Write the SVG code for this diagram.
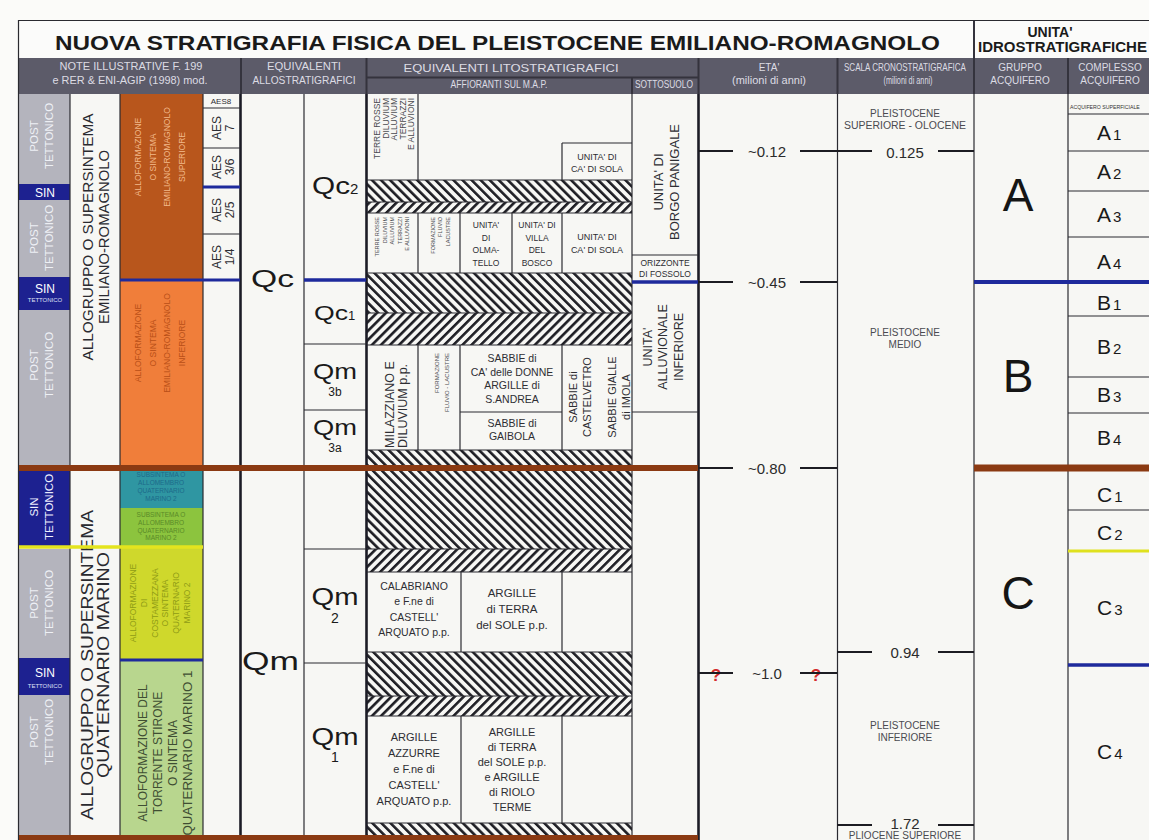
<svg xmlns="http://www.w3.org/2000/svg" width="1149" height="840" viewBox="0 0 1149 840">
<defs>
<pattern id="hb" patternUnits="userSpaceOnUse" width="6.4" height="6.4" patternTransform="rotate(-45)">
<rect width="6.4" height="6.4" fill="#f7f7f4"/><rect width="2.6" height="6.4" fill="#1e1e24"/>
</pattern>
<pattern id="hf" patternUnits="userSpaceOnUse" width="6.4" height="6.4" patternTransform="rotate(45)">
<rect width="6.4" height="6.4" fill="#f7f7f4"/><rect width="2.6" height="6.4" fill="#1e1e24"/>
</pattern>
</defs>
<style>
text{font-family:"Liberation Sans",Arial,Helvetica,sans-serif}
.hd{fill:#dcdce4;font-size:10px;text-anchor:middle}
.c{text-anchor:middle}
.r{text-anchor:middle;dominant-baseline:central}
.ln{stroke:#2a2a30;stroke-width:1.2;fill:none}
.lk{stroke:#1c1c26;stroke-width:2.6;fill:none}
.gr{fill:#b4b4bd}
.sin{fill:#1d2190}
.gt{fill:#eef0f5;font-size:11.5px}
.st{fill:#ffffff;font-size:12px}
.tx{fill:#2e2e33}
.sm{fill:#4a4a50}
.tk{stroke:#1c1c22;stroke-width:2;fill:none}
.num{fill:#2b2b2b;font-size:15px;text-anchor:middle}
.big{fill:#151515;font-size:46px;text-anchor:middle}
.sub{fill:#1a1a1a;font-size:21px}
.bl{stroke:#1e2a9c;fill:none}
.br{stroke:#8b3a12;fill:none}
</style>

<rect width="1149" height="840" fill="#fbfbf9"/>

<g id="title">
<rect x="18" y="20" width="1131" height="38" fill="#fbfbfa"/>
<text x="55" y="50" font-size="20" font-weight="bold" fill="#1a1a1a" textLength="885" lengthAdjust="spacingAndGlyphs">NUOVA STRATIGRAFIA FISICA DEL PLEISTOCENE EMILIANO-ROMAGNOLO</text>
<text x="1050" y="37" font-size="14" font-weight="bold" fill="#1a1a1a" class="c">UNITA'</text>
<text x="978" y="52" font-size="15" font-weight="bold" fill="#1a1a1a">IDROSTRATIGRAFICHE</text>
</g>

<g id="header">
<rect x="18" y="58" width="1131" height="36" fill="#5c5b69"/>
<text class="hd" x="131" y="70" textLength="143" lengthAdjust="spacingAndGlyphs">NOTE ILLUSTRATIVE F. 199</text>
<text class="hd" x="130" y="84" textLength="155" lengthAdjust="spacingAndGlyphs">e RER &amp; ENI-AGIP (1998) mod.</text>
<text class="hd" x="304" y="70" textLength="74" lengthAdjust="spacingAndGlyphs">EQUIVALENTI</text>
<text class="hd" x="304" y="84" textLength="103" lengthAdjust="spacingAndGlyphs">ALLOSTRATIGRAFICI</text>
<text class="hd" x="511" y="72" textLength="215" lengthAdjust="spacingAndGlyphs">EQUIVALENTI LITOSTRATIGRAFICI</text>
<text class="hd" x="499" y="88" font-size="7.5" textLength="97" lengthAdjust="spacingAndGlyphs">AFFIORANTI SUL M.A.P.</text>
<text class="hd" x="664" y="88" font-size="7.5" textLength="58" lengthAdjust="spacingAndGlyphs">SOTTOSUOLO</text>
<text class="hd" x="769" y="71">ETA'</text>
<text class="hd" x="769" y="84" textLength="74" lengthAdjust="spacingAndGlyphs">(milioni di anni)</text>
<text class="hd" x="905" y="71" font-size="8.5" textLength="122" lengthAdjust="spacingAndGlyphs">SCALA CRONOSTRATIGRAFICA</text>
<text class="hd" x="908" y="84" font-size="6.5" textLength="49" lengthAdjust="spacingAndGlyphs">(milioni di anni)</text>
<text class="hd" x="1020" y="71" font-size="8">GRUPPO</text>
<text class="hd" x="1020" y="84" font-size="8">ACQUIFERO</text>
<text class="hd" x="1110" y="71" font-size="8">COMPLESSO</text>
<text class="hd" x="1110" y="84" font-size="8">ACQUIFERO</text>
<g stroke="#34333d" stroke-width="2">
<line x1="241" y1="58" x2="241" y2="94"/><line x1="366.5" y1="58" x2="366.5" y2="94"/>
<line x1="698.5" y1="58" x2="698.5" y2="94"/><line x1="837.5" y1="58" x2="837.5" y2="94"/>
<line x1="974" y1="20" x2="974" y2="94"/><line x1="1068" y1="58" x2="1068" y2="94"/>
<line x1="366" y1="77.5" x2="698" y2="77.5"/><line x1="632" y1="77.5" x2="632" y2="94"/>
</g>
</g>

<rect x="18" y="94" width="1131" height="746" fill="#f7f7f4"/>

<g id="col-tettonica">
<rect class="gr" x="19" y="94" width="51" height="90"/>
<text class="gt r" transform="translate(41,136) rotate(-90)"><tspan x="0" y="-7.5">POST</tspan><tspan x="0" dy="15">TETTONICO</tspan></text>
<rect class="sin" x="19" y="184" width="51" height="16"/>
<text class="st c" x="45" y="196.5">SIN</text>
<rect class="gr" x="19" y="200" width="51" height="77"/>
<text class="gt r" transform="translate(41,238) rotate(-90)"><tspan x="0" y="-7.5">POST</tspan><tspan x="0" dy="15">TETTONICO</tspan></text>
<rect class="sin" x="19" y="277" width="51" height="33"/>
<text class="st c" x="45" y="293">SIN</text>
<text class="c" x="45" y="302" font-size="6" fill="#dfe0f5">TETTONICO</text>
<rect class="gr" x="19" y="310" width="51" height="155"/>
<text class="gt r" transform="translate(41,365) rotate(-90)"><tspan x="0" y="-7.5">POST</tspan><tspan x="0" dy="15">TETTONICO</tspan></text>
<rect class="sin" x="19" y="471" width="51" height="75"/>
<text class="r" fill="#eef0ff" font-size="11.5" transform="translate(41,507) rotate(-90)"><tspan x="0" y="-7.5">SIN</tspan><tspan x="0" dy="15">TETTONICO</tspan></text>
<rect class="gr" x="19" y="549" width="51" height="109"/>
<text class="gt r" transform="translate(41,603) rotate(-90)"><tspan x="0" y="-7.5">POST</tspan><tspan x="0" dy="15">TETTONICO</tspan></text>
<rect class="sin" x="19" y="658" width="51" height="37"/>
<text class="st c" x="45" y="677">SIN</text>
<text class="c" x="45" y="688" font-size="6" fill="#dfe0f5">TETTONICO</text>
<rect class="gr" x="19" y="695" width="51" height="140"/>
<text class="gt r" transform="translate(41,732) rotate(-90)"><tspan x="0" y="-7.5">POST</tspan><tspan x="0" dy="15">TETTONICO</tspan></text>
</g>

<g id="allogruppo-er">
<text class="r" fill="#2a2a30" font-size="15" transform="translate(95,237) rotate(-90)"><tspan x="0" y="-8" textLength="247" lengthAdjust="spacingAndGlyphs">ALLOGRUPPO O SUPERSINTEMA</tspan><tspan x="0" dy="16" textLength="174" lengthAdjust="spacingAndGlyphs">EMILIANO-ROMAGNOLO</tspan></text>
</g>
<g id="allogruppo-qm">
<text class="r" fill="#2a2a30" font-size="16.5" transform="translate(95,665) rotate(-90)"><tspan x="0" y="-8" textLength="310" lengthAdjust="spacingAndGlyphs">ALLOGRUPPO O SUPERSINTEMA</tspan><tspan x="0" dy="16" textLength="226" lengthAdjust="spacingAndGlyphs">QUATERNARIO MARINO</tspan></text>
</g>

<g id="aes-sup">
<rect x="120" y="94" width="83" height="186" fill="#b8561c"/>
<text class="r" fill="#f2b98a" font-size="8.5" transform="translate(160,157) rotate(-90)"><tspan x="0" y="-22">ALLOFORMAZIONE</tspan><tspan x="0" dy="14.7">O SINTEMA</tspan><tspan x="0" dy="14.7">EMILIANO-ROMAGNOLO</tspan><tspan x="0" dy="14.7">SUPERIORE</tspan></text>
</g>
<g id="aei-inf">
<rect x="120" y="280" width="83" height="185" fill="#f07e3a"/>
<text class="r" fill="#b94f17" font-size="8.5" transform="translate(160,343) rotate(-90)"><tspan x="0" y="-22">ALLOFORMAZIONE</tspan><tspan x="0" dy="14.7">O SINTEMA</tspan><tspan x="0" dy="14.7">EMILIANO-ROMAGNOLO</tspan><tspan x="0" dy="14.7">INFERIORE</tspan></text>
</g>
<g id="qm-sub3">
<rect x="120" y="471" width="83" height="37" fill="#2f96a2"/>
<text class="c" fill="#1d6a8a" font-size="6.5"><tspan x="161" y="477">SUBSINTEMA O</tspan><tspan x="161" dy="8">ALLOMEMBRO</tspan><tspan x="161" dy="8">QUATERNARIO</tspan><tspan x="161" dy="8">MARINO 2</tspan></text>
</g>
<g id="qm-sub2">
<rect x="120" y="508" width="83" height="38" fill="#8cc43e"/>
<text class="c" fill="#5a8a28" font-size="6.5"><tspan x="161" y="517">SUBSINTEMA O</tspan><tspan x="161" dy="7.8">ALLOMEMBRO</tspan><tspan x="161" dy="7.8">QUATERNARIO</tspan><tspan x="161" dy="7.8">MARINO 2</tspan></text>
</g>
<g id="costamezzana">
<rect x="120" y="548" width="83" height="112" fill="#cfd82c"/>
<text class="r" fill="#8f9c16" font-size="8.5" transform="translate(160,603) rotate(-90)"><tspan x="0" y="-27">ALLOFORMAZIONE</tspan><tspan x="0" dy="10.8">DI</tspan><tspan x="0" dy="10.8">COSTAMEZZANA</tspan><tspan x="0" dy="10.8">O SINTEMA</tspan><tspan x="0" dy="10.8">QUATERNARIO</tspan><tspan x="0" dy="10.8">MARINO 2</tspan></text>
</g>
<g id="stirone">
<rect x="120" y="661" width="83" height="174" fill="#b8d68e"/>
<text class="r" fill="#3f4e33" font-size="12" transform="translate(165,753) rotate(-90)"><tspan x="0" y="-22.5">ALLOFORMAZIONE DEL</tspan><tspan x="0" dy="15">TORRENTE STIRONE</tspan><tspan x="0" dy="15">O SINTEMA</tspan><tspan x="0" dy="15" textLength="165" lengthAdjust="spacingAndGlyphs">QUATERNARIO MARINO 1</tspan></text>
</g>

<g id="aes">
<text class="c tx" x="221" y="104" font-size="8">AES8</text>
<text class="r tx" font-size="12" transform="translate(223,128) rotate(-90)"><tspan x="0" y="-6.5">AES</tspan><tspan x="0" dy="13">7</tspan></text>
<text class="r tx" font-size="12" transform="translate(223,167) rotate(-90)"><tspan x="0" y="-6.5">AES</tspan><tspan x="0" dy="13">3/6</tspan></text>
<text class="r tx" font-size="12" transform="translate(223,210) rotate(-90)"><tspan x="0" y="-6.5">AES</tspan><tspan x="0" dy="13">2/5</tspan></text>
<text class="r tx" font-size="12" transform="translate(223,257) rotate(-90)"><tspan x="0" y="-6.5">AES</tspan><tspan x="0" dy="13">1/4</tspan></text>
</g>

<g id="qc">
<text x="251" y="287" font-size="24" fill="#1a1a1a" textLength="43" lengthAdjust="spacingAndGlyphs">Qc</text>
<text x="312" y="194" font-size="24" fill="#1a1a1a"><tspan textLength="38" lengthAdjust="spacingAndGlyphs">Qc</tspan><tspan font-size="15">2</tspan></text>
<text x="314" y="320" font-size="21" fill="#1a1a1a"><tspan textLength="34" lengthAdjust="spacingAndGlyphs">Qc</tspan><tspan font-size="13">1</tspan></text>
<text x="335" y="379" font-size="22" fill="#1a1a1a" class="c" textLength="44" lengthAdjust="spacingAndGlyphs">Qm</text>
<text x="335" y="396" font-size="12" fill="#1a1a1a" class="c">3b</text>
<text x="335" y="435" font-size="22" fill="#1a1a1a" class="c" textLength="44" lengthAdjust="spacingAndGlyphs">Qm</text>
<text x="335" y="452" font-size="12" fill="#1a1a1a" class="c">3a</text>
</g>
<g id="qm">
<text x="242" y="670" font-size="26" fill="#1a1a1a" textLength="57" lengthAdjust="spacingAndGlyphs">Qm</text>
<text x="335" y="605" font-size="23" fill="#1a1a1a" class="c" textLength="47" lengthAdjust="spacingAndGlyphs">Qm</text>
<text x="335" y="623" font-size="14" fill="#1a1a1a" class="c">2</text>
<text x="335" y="745" font-size="23" fill="#1a1a1a" class="c" textLength="47" lengthAdjust="spacingAndGlyphs">Qm</text>
<text x="335" y="762" font-size="14" fill="#1a1a1a" class="c">1</text>
</g>

<g id="hatch">
<rect x="367" y="180" width="265" height="22" fill="url(#hb)"/>
<rect x="367" y="202" width="265" height="11" fill="url(#hf)"/>
<rect x="367" y="273" width="265" height="40" fill="url(#hb)"/>
<rect x="367" y="313" width="265" height="32" fill="url(#hf)"/>
<rect x="367" y="450" width="265" height="15" fill="url(#hb)"/>
<rect x="367" y="471" width="265" height="78" fill="url(#hb)"/>
<rect x="367" y="549" width="265" height="23" fill="url(#hf)"/>
<rect x="367" y="652" width="265" height="44" fill="url(#hb)"/>
<rect x="367" y="696" width="265" height="20" fill="url(#hf)"/>
<rect x="367" y="823" width="265" height="12" fill="url(#hb)"/>
</g>

<g id="litho-up">
<text class="sm" font-size="8.5" text-anchor="end" dominant-baseline="central" transform="translate(394,98) rotate(-90)"><tspan x="0" y="-17">TERRE ROSSE</tspan><tspan x="0" dy="8.5">DILUVIUM</tspan><tspan x="0" dy="8.5">ALLUVIUM</tspan><tspan x="0" dy="8.5">TERRAZZI</tspan><tspan x="0" dy="8.5">E ALLUVIONI</tspan></text>
<text class="c tx" font-size="9"><tspan x="597" y="160">UNITA' DI</tspan><tspan x="597" dy="12">CA' DI SOLA</tspan></text>
<text class="sm" font-size="5.5" text-anchor="end" dominant-baseline="central" transform="translate(392,217) rotate(-90)"><tspan x="0" y="-15">TERRE ROSSE</tspan><tspan x="0" dy="7.5">DILUVIUM</tspan><tspan x="0" dy="7.5">ALLUVIUM</tspan><tspan x="0" dy="7.5">TERRAZZI</tspan><tspan x="0" dy="7.5">E ALLUVIONI</tspan></text>
<text class="sm" font-size="5.5" text-anchor="end" dominant-baseline="central" transform="translate(440,217) rotate(-90)"><tspan x="0" y="-7.5">FORMAZIONE</tspan><tspan x="0" dy="7.5">FLUVIO</tspan><tspan x="0" dy="7.5">LACUSTRE</tspan></text>
<text class="c tx" font-size="8.5"><tspan x="486" y="228">UNITA'</tspan><tspan x="486" dy="12.7">DI</tspan><tspan x="486" dy="12.7">OLMA-</tspan><tspan x="486" dy="12.7">TELLO</tspan></text>
<text class="c tx" font-size="8.5"><tspan x="537" y="228">UNITA' DI</tspan><tspan x="537" dy="12.7">VILLA</tspan><tspan x="537" dy="12.7">DEL</tspan><tspan x="537" dy="12.7">BOSCO</tspan></text>
<text class="c tx" font-size="9"><tspan x="597" y="240">UNITA' DI</tspan><tspan x="597" dy="13">CA' DI SOLA</tspan></text>
<text class="tx" font-size="12.5" dominant-baseline="central" transform="translate(396,448) rotate(-90)"><tspan x="0" y="-6.5">MILAZZIANO E</tspan><tspan x="0" dy="13">DILUVIUM p.p.</tspan></text>
<text class="sm" font-size="6" text-anchor="end" dominant-baseline="central" transform="translate(442,353) rotate(-90)"><tspan x="0" y="-5">FORMAZIONE</tspan><tspan x="0" dy="10">FLUVIO - LACUSTRE</tspan></text>
<text class="c tx" font-size="10.5"><tspan x="512" y="362">SABBIE di</tspan><tspan x="512" dy="13.5">CA' delle DONNE</tspan><tspan x="512" dy="13.5">ARGILLE di</tspan><tspan x="512" dy="13.5">S.ANDREA</tspan></text>
<text class="c tx" font-size="10.5"><tspan x="512" y="427">SABBIE di</tspan><tspan x="512" dy="13">GAIBOLA</tspan></text>
<text class="r tx" font-size="11" transform="translate(580,397) rotate(-90)"><tspan x="0" y="-7">SABBIE di</tspan><tspan x="0" dy="14">CASTELVETRO</tspan></text>
<text class="r tx" font-size="11" transform="translate(619,397) rotate(-90)"><tspan x="0" y="-7">SABBIE GIALLE</tspan><tspan x="0" dy="14">di IMOLA</tspan></text>
</g>

<g id="sottosuolo">
<text class="r tx" font-size="13" transform="translate(666,182) rotate(-90)"><tspan x="0" y="-8">UNITA' DI</tspan><tspan x="0" dy="16">BORGO PANIGALE</tspan></text>
<text class="c tx" font-size="8.5"><tspan x="665" y="266">ORIZZONTE</tspan><tspan x="665" dy="10.5">DI FOSSOLO</tspan></text>
<text class="r tx" font-size="12.5" transform="translate(663,347) rotate(-90)"><tspan x="0" y="-15.5">UNITA'</tspan><tspan x="0" dy="15.5">ALLUVIONALE</tspan><tspan x="0" dy="15.5">INFERIORE</tspan></text>
</g>

<g id="litho-low">
<text class="c tx" font-size="10.5"><tspan x="414" y="590">CALABRIANO</tspan><tspan x="414" dy="15.3">e F.ne di</tspan><tspan x="414" dy="15.3">CASTELL'</tspan><tspan x="414" dy="15.3">ARQUATO p.p.</tspan></text>
<text class="c tx" font-size="11.5"><tspan x="512" y="597">ARGILLE</tspan><tspan x="512" dy="16">di TERRA</tspan><tspan x="512" dy="16">del SOLE p.p.</tspan></text>
<text class="c tx" font-size="11"><tspan x="414" y="741">ARGILLE</tspan><tspan x="414" dy="16">AZZURRE</tspan><tspan x="414" dy="16">e F.ne di</tspan><tspan x="414" dy="16">CASTELL'</tspan><tspan x="414" dy="16">ARQUATO p.p.</tspan></text>
<text class="c tx" font-size="11"><tspan x="512" y="736">ARGILLE</tspan><tspan x="512" dy="15">di TERRA</tspan><tspan x="512" dy="15">del SOLE p.p.</tspan><tspan x="512" dy="15">e ARGILLE</tspan><tspan x="512" dy="15">di RIOLO</tspan><tspan x="512" dy="15">TERME</tspan></text>
</g>

<g id="eta">
<text class="num" x="767" y="157">~0.12</text>
<text class="num" x="767" y="288">~0.45</text>
<text class="num" x="767" y="474">~0.80</text>
<text class="num" x="767" y="679" fill="#777">~1.0</text>
<text x="716" y="681" font-size="17" font-weight="bold" fill="#d42a2a" class="c">?</text>
<text x="816" y="681" font-size="17" font-weight="bold" fill="#d42a2a" class="c">?</text>
</g>

<g id="scala">
<text class="c sm" font-size="10"><tspan x="905" y="117">PLEISTOCENE</tspan><tspan x="905" dy="12" textLength="122" lengthAdjust="spacingAndGlyphs">SUPERIORE - OLOCENE</tspan></text>
<text class="num" x="905" y="158">0.125</text>
<text class="c sm" font-size="10"><tspan x="905" y="336">PLEISTOCENE</tspan><tspan x="905" dy="12">MEDIO</tspan></text>
<text class="num" x="905" y="658">0.94</text>
<text class="c sm" font-size="10"><tspan x="905" y="729">PLEISTOCENE</tspan><tspan x="905" dy="12">INFERIORE</tspan></text>
<text class="num" x="905" y="829">1.72</text>
<text class="c sm" font-size="10" x="905" y="839">PLIOCENE SUPERIORE</text>
</g>

<g id="gruppo">
<text class="big" x="1018" y="211">A</text>
<text class="big" x="1018" y="392">B</text>
<text class="big" x="1018" y="609">C</text>
</g>

<g id="complesso">
<text x="1070" y="109" font-size="5.2" fill="#333">ACQUIFERO SUPERFICIALE</text>
<text class="sub" x="1097" y="140">A<tspan font-size="15" dx="2">1</tspan></text>
<text class="sub" x="1097" y="179">A<tspan font-size="15" dx="2">2</tspan></text>
<text class="sub" x="1097" y="222">A<tspan font-size="15" dx="2">3</tspan></text>
<text class="sub" x="1097" y="269">A<tspan font-size="15" dx="2">4</tspan></text>
<text class="sub" x="1097" y="310">B<tspan font-size="15" dx="2">1</tspan></text>
<text class="sub" x="1097" y="354">B<tspan font-size="15" dx="2">2</tspan></text>
<text class="sub" x="1097" y="402">B<tspan font-size="15" dx="2">3</tspan></text>
<text class="sub" x="1097" y="445">B<tspan font-size="15" dx="2">4</tspan></text>
<text class="sub" x="1097" y="502">C<tspan font-size="15" dx="2">1</tspan></text>
<text class="sub" x="1097" y="540">C<tspan font-size="15" dx="2">2</tspan></text>
<text class="sub" x="1097" y="615">C<tspan font-size="15" dx="2">3</tspan></text>
<text class="sub" x="1097" y="759">C<tspan font-size="15" dx="2">4</tspan></text>
</g>

<g id="connectors">
<line class="ln" x1="18" y1="20.5" x2="1149" y2="20.5" stroke-width="1.5"/>
<line class="ln" x1="18.5" y1="20" x2="18.5" y2="840" stroke-width="1.5"/>
<line class="ln" x1="70" y1="94" x2="70" y2="835"/>
<line class="ln" x1="120" y1="94" x2="120" y2="835"/>
<line class="ln" x1="203" y1="94" x2="203" y2="835"/>
<line class="lk" x1="240.5" y1="94" x2="240.5" y2="840"/>
<line class="ln" x1="304" y1="94" x2="304" y2="835"/>
<line class="lk" x1="366.5" y1="94" x2="366.5" y2="840"/>
<line class="ln" x1="632" y1="94" x2="632" y2="835"/>
<line class="lk" x1="698.5" y1="94" x2="698.5" y2="840"/>
<line class="ln" x1="837.5" y1="94" x2="837.5" y2="840" stroke-width="1.6"/>
<line class="ln" x1="974" y1="94" x2="974" y2="840" stroke-width="1.6"/>
<line class="ln" x1="1068" y1="94" x2="1068" y2="840" stroke-width="1.6"/>
<line class="ln" x1="203" y1="108" x2="240" y2="108"/>
<line class="ln" x1="203" y1="148" x2="240" y2="148"/>
<line class="ln" x1="203" y1="234" x2="240" y2="234"/>
<line class="ln" x1="304" y1="344" x2="366" y2="344"/>
<line class="ln" x1="304" y1="410" x2="366" y2="410"/>
<line class="ln" x1="304" y1="549" x2="366" y2="549"/>
<line class="ln" x1="304" y1="663" x2="366" y2="663"/>
<line class="ln" x1="418" y1="94" x2="418" y2="180"/>
<line class="ln" x1="562" y1="143" x2="632" y2="143"/>
<line class="ln" x1="562" y1="143" x2="562" y2="180"/>
<line class="ln" x1="367" y1="180" x2="632" y2="180"/>
<line class="ln" x1="367" y1="202" x2="632" y2="202"/>
<line class="ln" x1="367" y1="213" x2="632" y2="213"/>
<line class="ln" x1="418" y1="213" x2="418" y2="273"/>
<line class="ln" x1="460" y1="213" x2="460" y2="273"/>
<line class="ln" x1="512" y1="213" x2="512" y2="273"/>
<line class="ln" x1="562" y1="213" x2="562" y2="273"/>
<line class="ln" x1="367" y1="273" x2="632" y2="273"/>
<line class="ln" x1="367" y1="313" x2="632" y2="313"/>
<line class="ln" x1="367" y1="345" x2="632" y2="345"/>
<line class="ln" x1="418" y1="345" x2="418" y2="450"/>
<line class="ln" x1="460" y1="345" x2="460" y2="450"/>
<line class="ln" x1="562" y1="345" x2="562" y2="450"/>
<line class="ln" x1="460" y1="412" x2="562" y2="412"/>
<line class="ln" x1="367" y1="450" x2="632" y2="450"/>
<line class="ln" x1="632" y1="255" x2="698" y2="255"/>
<line class="ln" x1="632" y1="412" x2="698" y2="412"/>
<line class="ln" x1="367" y1="549" x2="632" y2="549"/>
<line class="ln" x1="367" y1="572" x2="632" y2="572"/>
<line class="ln" x1="461" y1="572" x2="461" y2="652"/>
<line class="ln" x1="562" y1="572" x2="562" y2="652"/>
<line class="ln" x1="367" y1="652" x2="632" y2="652"/>
<line class="ln" x1="367" y1="696" x2="632" y2="696"/>
<line class="ln" x1="367" y1="716" x2="632" y2="716"/>
<line class="ln" x1="461" y1="716" x2="461" y2="823"/>
<line class="ln" x1="562" y1="716" x2="562" y2="823"/>
<line class="ln" x1="367" y1="823" x2="632" y2="823"/>
<line class="ln" x1="1068" y1="114" x2="1149" y2="114"/>
<line class="ln" x1="1068" y1="151" x2="1149" y2="151"/>
<line class="ln" x1="1068" y1="191" x2="1149" y2="191"/>
<line class="ln" x1="1068" y1="237" x2="1149" y2="237"/>
<line class="ln" x1="1068" y1="316" x2="1149" y2="316"/>
<line class="ln" x1="1068" y1="377" x2="1149" y2="377"/>
<line class="ln" x1="1068" y1="413" x2="1149" y2="413"/>
<line class="ln" x1="1068" y1="510" x2="1149" y2="510"/>
<line class="tk" x1="698" y1="151" x2="733" y2="151"/><line class="tk" x1="800" y1="151" x2="872" y2="151"/><line class="tk" x1="938" y1="151" x2="974" y2="151"/>
<line class="tk" x1="698" y1="282" x2="733" y2="282"/><line class="tk" x1="800" y1="282" x2="837" y2="282"/>
<line class="tk" x1="698" y1="468" x2="733" y2="468"/><line class="tk" x1="800" y1="468" x2="837" y2="468"/>
<line class="tk" x1="698" y1="673" x2="733" y2="673"/><line class="tk" x1="800" y1="673" x2="837" y2="673"/>
<line class="tk" x1="837" y1="652" x2="872" y2="652"/><line class="tk" x1="938" y1="652" x2="974" y2="652"/>
<line class="tk" x1="837" y1="825" x2="872" y2="825"/><line class="tk" x1="938" y1="825" x2="974" y2="825"/>
<line class="bl" x1="203" y1="187" x2="240" y2="187" stroke-width="3"/>
<line class="bl" x1="120" y1="280" x2="240" y2="280" stroke-width="3"/>
<line class="bl" x1="304" y1="280" x2="366" y2="280" stroke-width="3.5"/>
<line class="bl" x1="632" y1="282" x2="698" y2="282" stroke-width="3.5"/>
<line class="bl" x1="974" y1="282" x2="1149" y2="282" stroke-width="4"/>
<line class="bl" x1="120" y1="660" x2="203" y2="660" stroke-width="3"/>
<line class="bl" x1="1068" y1="665" x2="1149" y2="665" stroke-width="3.5"/>
<line x1="19" y1="547" x2="203" y2="547" stroke="#e4e41e" stroke-width="3.5"/>
<line x1="1068" y1="551" x2="1149" y2="551" stroke="#dfe11e" stroke-width="3"/>
<line class="br" x1="19" y1="468" x2="698" y2="468" stroke-width="6"/>
<line class="br" x1="974" y1="468" x2="1149" y2="468" stroke-width="7"/>
<line class="br" x1="19" y1="837.5" x2="698" y2="837.5" stroke-width="5"/>
</g>
</svg>
